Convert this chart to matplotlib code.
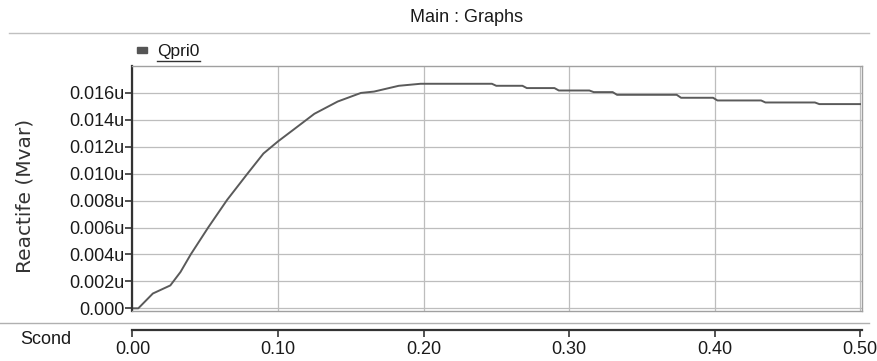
import matplotlib
matplotlib.use("Agg")
import matplotlib.pyplot as plt
from matplotlib.lines import Line2D
from matplotlib.patches import Rectangle

plt.rcParams['font.family'] = ['Liberation Sans', 'DejaVu Sans']

# Reactive power of Qpri0 over time (values in the axis' "u" units, x1e-3)
time_s = [0.000, 0.004, 0.014, 0.026, 0.033, 0.040, 0.052, 0.065, 0.079, 0.090,
          0.100, 0.111, 0.125, 0.141, 0.157, 0.166, 0.183, 0.198, 0.247, 0.250,
          0.268, 0.271, 0.290, 0.293, 0.314, 0.317, 0.330, 0.333, 0.374, 0.377,
          0.399, 0.402, 0.432, 0.435, 0.469, 0.472, 0.500]
qpri0 = [0.0, 0.0, 1.1, 1.7, 2.7, 4.0, 6.0, 8.05, 10.0, 11.5,
         12.4, 13.3, 14.45, 15.36, 16.0, 16.1, 16.53, 16.68, 16.68, 16.53,
         16.53, 16.36, 16.36, 16.18, 16.18, 16.06, 16.06, 15.86, 15.86, 15.64,
         15.64, 15.44, 15.44, 15.29, 15.29, 15.17, 15.17]
qpri0 = [v * 1e-3 for v in qpri0]

y_ticks = [0.000, 0.002, 0.004, 0.006, 0.008, 0.010, 0.012, 0.014, 0.016]
y_tick_labels = ["0.000", "0.002u", "0.004u", "0.006u", "0.008u",
                 "0.010u", "0.012u", "0.014u", "0.016u"]
x_ticks = [0.0, 0.1, 0.2, 0.3, 0.4, 0.5]
x_tick_labels = ["0.00", "0.10", "0.20", "0.30", "0.40", "0.50"]

W, H = 878, 361
fig = plt.figure(figsize=(W / 100, H / 100), dpi=100)
fig.patch.set_facecolor('white')

left, right, top, bottom = 132.5, 862.5, 66, 311
ax = fig.add_axes([left / W, 1 - bottom / H, (right - left) / W, (bottom - top) / H])
ax.set_xlim(0, 0.5017)
ax.set_ylim(-0.0002, 0.018)

ax.plot(time_s, qpri0, color='#5a5a5a', lw=1.4)

ax.set_yticks(y_ticks)
ax.set_yticklabels(y_tick_labels, fontsize=13, color='#1a1a1a')
ax.set_xticks(x_ticks)
ax.tick_params(axis='x', bottom=False, labelbottom=False)
ax.tick_params(axis='y', direction='out', length=5, width=1.2, pad=1, color='#333333')
ax.grid(True, color='#bdbdbd', lw=0.9)
ax.set_axisbelow(True)

for side in ('top', 'right', 'bottom'):
    ax.spines[side].set_color('#a0a0a0')
    ax.spines[side].set_linewidth(1.0)
ax.spines['left'].set_color('#333333')
ax.spines['left'].set_linewidth(1.6)

ax.set_ylabel("Reactife (Mvar)", fontsize=14.5, color='#333333',
              family=['DejaVu Sans'])
ax.yaxis.set_label_coords(-0.134, 0.47)

# Separate time scale strip below the plot
sec = ax.secondary_xaxis(-0.077)
sec.set_xticks(x_ticks)
sec.set_xticklabels(x_tick_labels, fontsize=13, color='#1a1a1a')
sec.tick_params(direction='out', length=5, width=1.2, pad=3, color='#333333')
sec.spines['bottom'].set_color('#333333')
sec.spines['bottom'].set_linewidth(1.6)

fig.text(46 / W, 1 - 340 / H, "Scond", fontsize=13, color='#1a1a1a',
         ha='center', va='center')

# Title and separator rules
fig.text(467 / W, 1 - 18 / H, "Main : Graphs", fontsize=13, color='#1a1a1a',
         ha='center', va='center')
fig.add_artist(Line2D([0.01, 0.99], [1 - 33 / H, 1 - 33 / H], color='#c0c0c0', lw=1.0))
fig.add_artist(Line2D([0.0, 0.99], [1 - 323 / H, 1 - 323 / H], color='#b0b0b0', lw=1.0))

# Legend entry
fig.add_artist(Rectangle((137 / W, 1 - 53 / H), 10 / W, 6 / H, color='#555555'))
fig.text(157 / W, 1 - 51.5 / H, "Qpri0", fontsize=12.5, color='#1a1a1a',
         ha='left', va='center')
fig.add_artist(Line2D([157 / W, 200 / W], [1 - 61 / H, 1 - 61 / H], color='#333333', lw=1.0))

fig.savefig("out.png", dpi=100)
